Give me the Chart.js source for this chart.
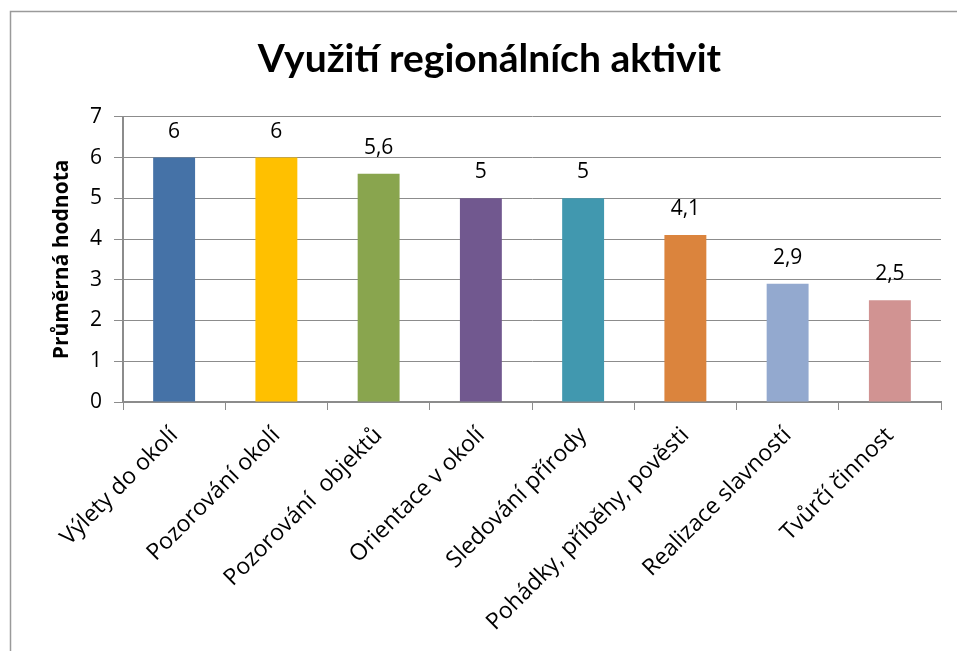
<!DOCTYPE html>
<html><head><meta charset="utf-8">
<script src="https://cdn.jsdelivr.net/npm/chart.js@4"></script>
<style>html,body{margin:0;padding:0;background:#fff;}#wrap{position:relative;width:957px;height:651px;}</style>
</head><body><div id="wrap"><canvas id="c" width="957" height="651"></canvas></div>
<script>
const chartTitle = 'Využití regionálních aktivit';
const yAxisTitle = 'Průměrná hodnota';
const categories = ['Výlety do okolí', 'Pozorování okolí', 'Pozorování  objektů', 'Orientace v okolí', 'Sledování přírody', 'Pohádky, příběhy, pověsti', 'Realizace slavností', 'Tvůrčí činnost'];
const values = [6, 6, 5.6, 5, 5, 4.1, 2.9, 2.5];
const barColors = ['#4572A7', '#FFC000', '#89A54E', '#71588F', '#4198AF', '#DB843D', '#93A9CF', '#D19392'];
const yMin = 0, yMax = 7, yStep = 1;

const FONT = '"Open Sans", Lato, sans-serif';
const TITLE_FONT = 'Lato, "Open Sans", sans-serif';
const GRID = '#8c8c8c';

const frame = {
  id: 'frame',
  beforeDraw(chart) {
    const ctx = chart.ctx;
    ctx.save();
    ctx.fillStyle = '#fff';
    ctx.fillRect(0, 0, chart.width, chart.height);
    ctx.strokeStyle = '#9a9a9a';
    ctx.lineWidth = 1.5;
    ctx.beginPath();
    ctx.moveTo(10.5, chart.height + 2);
    ctx.lineTo(10.5, 11.5);
    ctx.lineTo(chart.width + 2, 11.5);
    ctx.stroke();
    ctx.restore();
  }
};

const dataLabels = {
  id: 'dataLabels',
  afterDatasetsDraw(chart) {
    const ctx = chart.ctx;
    const meta = chart.getDatasetMeta(0);
    ctx.save();
    ctx.font = '21px ' + FONT;
    ctx.fillStyle = '#000';
    ctx.textAlign = 'center';
    ctx.textBaseline = 'middle';
    meta.data.forEach((bar, i) => {
      const v = chart.data.datasets[0].data[i];
      ctx.fillText(String(v).replace('.', ','), bar.x, bar.y - 26);
    });
    ctx.restore();
  }
};

new Chart(document.getElementById('c'), {
  type: 'bar',
  data: {
    labels: categories,
    datasets: [{
      data: values,
      backgroundColor: barColors,
      borderWidth: 0,
      barPercentage: 0.41,
      categoryPercentage: 1
    }]
  },
  options: {
    responsive: false,
    animation: false,
    devicePixelRatio: 1,
    layout: { padding: { left: 38, right: 16, top: 0, bottom: 0 } },
    plugins: {
      legend: { display: false },
      tooltip: { enabled: false },
      title: {
        display: true,
        text: chartTitle,
        color: '#000',
        font: { family: TITLE_FONT, size: 39, weight: 'bold', lineHeight: 1.2 },
        padding: { top: 36, bottom: 34 }
      }
    },
    scales: {
      x: {
        grid: { display: true, drawOnChartArea: false, drawTicks: true, tickLength: 8, color: GRID, offset: true },
        border: { display: true, color: GRID, width: 2 },
        ticks: { color: '#000', font: { family: FONT, size: 23 }, maxRotation: 45, minRotation: 45, padding: 12, autoSkip: false },
        afterFit(scale) { scale.height = 249; }
      },
      y: {
        min: yMin, max: yMax,
        grid: { color: GRID, lineWidth: 1, tickLength: 9 },
        border: { display: true, color: GRID, width: 2 },
        ticks: { stepSize: yStep, color: '#000', font: { family: FONT, size: 21 }, padding: 12 },
        title: { display: true, text: yAxisTitle, color: '#000', font: { family: FONT, size: 21, weight: 'bold', lineHeight: 1.2 }, padding: { top: 11, bottom: 0 } },
        afterFit(scale) { scale.width = 85; }
      }
    }
  },
  plugins: [frame, dataLabels]
});
</script></body></html>
